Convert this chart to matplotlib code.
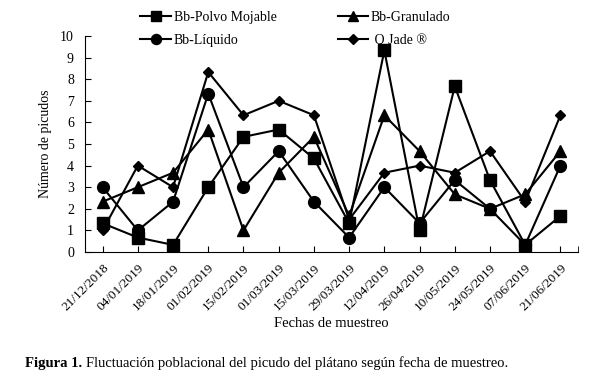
import numpy as np
import matplotlib.pyplot as plt

plt.rcParams['font.family'] = ['Liberation Serif', 'DejaVu Serif']

fechas = ["21/12/2018", "04/01/2019", "18/01/2019", "01/02/2019", "15/02/2019",
          "01/03/2019", "15/03/2019", "29/03/2019", "12/04/2019", "26/04/2019",
          "10/05/2019", "24/05/2019", "07/06/2019", "21/06/2019"]

polvo = [1.33, 0.67, 0.33, 3.0, 5.33, 5.67, 4.33, 1.33, 9.33, 1.0, 7.67, 3.33, 0.33, 1.67]
liquido = [3.0, 1.0, 2.33, 7.33, 3.0, 4.67, 2.33, 0.67, 3.0, 1.33, 3.33, 2.0, 0.33, 4.0]
granulado = [2.33, 3.0, 3.67, 5.67, 1.0, 3.67, 5.33, 1.67, 6.33, 4.67, 2.67, 2.0, 2.67, 4.67]
qjade = [1.0, 4.0, 3.0, 8.33, 6.33, 7.0, 6.33, 1.5, 3.67, 4.0, 3.67, 4.67, 2.33, 6.33]

x = np.arange(len(fechas))

fig = plt.figure(figsize=(5.92, 3.78), dpi=100)
ax = fig.add_axes([0.1436, 0.3333, 0.8328, 0.5715])

# order chosen so legend columns come out like the original
l1, = ax.plot(x, polvo, color='black', lw=1.5, marker='s', ms=8.5, label='Bb-Polvo Mojable')
l2, = ax.plot(x, liquido, color='black', lw=1.5, marker='o', ms=8.5, label='Bb-Líquido')
l3, = ax.plot(x, granulado, color='black', lw=1.5, marker='^', ms=8, label='Bb-Granulado')
l4, = ax.plot(x, qjade, color='black', lw=1.5, marker='D', ms=5.5, label=' Q Jade ®')

ax.set_xlim(-0.5, 13.5)
ax.set_ylim(0, 10)
ax.set_yticks(range(0, 11))
ax.set_xticks(x)
ax.set_xticks([13.5], minor=True)
ax.set_xticklabels(fechas, rotation=45, ha='right', rotation_mode='anchor', fontsize=9.5)
ax.tick_params(axis='y', direction='in', length=4, labelsize=10, pad=8)
ax.tick_params(axis='x', which='both', direction='in', length=4, pad=7)

for s in ['top', 'right']:
    ax.spines[s].set_visible(False)

ax.set_xlabel('Fechas de muestreo', fontsize=10.5, labelpad=3)
ax.set_ylabel('Número de picudos', fontsize=10, labelpad=6)

fig.legend(handles=[l1, l2, l3, l4], ncol=2, loc='upper left',
           bbox_to_anchor=(0.216, 1.005), frameon=False, fontsize=10,
           handlelength=2.2, handletextpad=0.2, columnspacing=4.4,
           labelspacing=0.75, markerscale=0.85)

# caption: bold part then normal text right after it
t1 = fig.text(0.042, 0.03, 'Figura 1.', fontsize=10.5, fontweight='bold')
fig.canvas.draw()
bb = t1.get_window_extent().transformed(fig.transFigure.inverted())
fig.text(bb.x1 + 0.007, 0.03,
         'Fluctuación poblacional del picudo del plátano según fecha de muestreo.',
         fontsize=10.5)

fig.savefig('out.png', dpi=100)
